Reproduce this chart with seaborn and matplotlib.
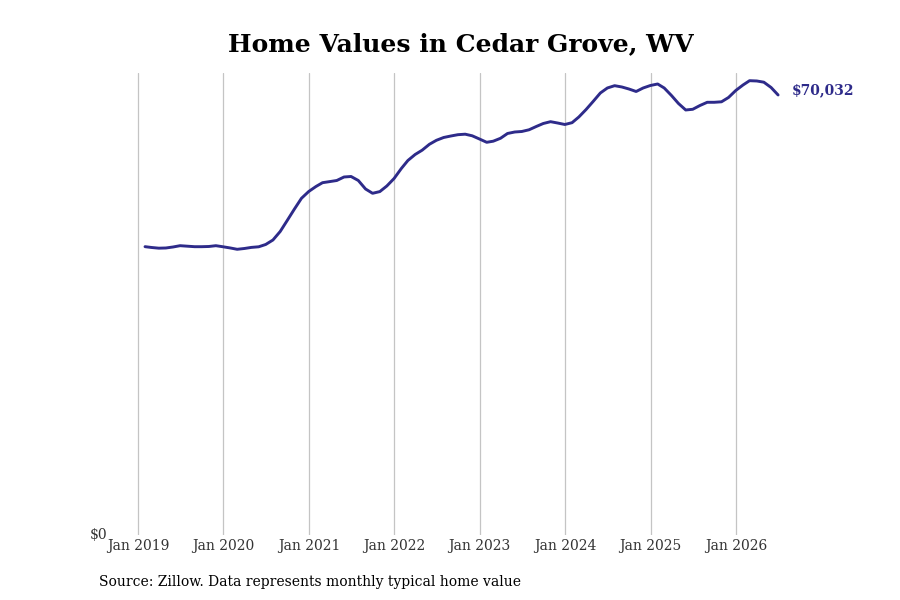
import numpy as np
import pandas as pd
import matplotlib
matplotlib.use("Agg")
import matplotlib.pyplot as plt
import matplotlib.dates as mdates
import seaborn as sns

dates = pd.date_range("2019-01-31", periods=90, freq="ME")
values = [
    45890, 45760, 45650, 45680, 45840, 46045, 45965, 45886, 45886, 45918, 46045, 45870,
    45680, 45472, 45600, 45774, 45870, 46236, 46952, 48305, 50056, 51886, 53589, 54671,
    55467, 56072, 56247, 56422, 56979, 57059, 56422, 55069, 54385, 54655, 55547, 56741,
    58332, 59605, 60560, 61245, 62184, 62820, 63266, 63505, 63712, 63791, 63537, 63027,
    62502, 62677, 63139, 63903, 64141, 64221, 64492, 65017, 65494, 65781, 65574, 65335,
    65622, 66529, 67723, 68996, 70349, 71145, 71511, 71304, 70985, 70587, 71145, 71542,
    71781, 71145, 69951, 68678, 67643, 67755, 68359, 68868, 68868, 68948, 69633, 70747,
    71622, 72307, 72259, 72068, 71224, 70032,
]
tick_years = [2019, 2020, 2021, 2022, 2023, 2024, 2025, 2026]
tick_labels = [f"Jan {y}" for y in tick_years]
title = "Home Values in Cedar Grove, WV"
source = "Source: Zillow. Data represents monthly typical home value"
line_color = "#2e2b8a"

df = pd.DataFrame({"date": dates, "value": values})

sns.set_style("white")
plt.rcParams["font.family"] = ["DejaVu Serif"]

fig = plt.figure(figsize=(9, 6), dpi=100)
L, R, B, T = 110, 790, 535, 73
ax = fig.add_axes([L / 900, (600 - B) / 600, (R - L) / 900, (B - T) / 600])

sns.lineplot(data=df, x="date", y="value", ax=ax, color=line_color, linewidth=2.1)

# x limits so that Jan 2019 sits at px 138 and Jan 2026 at px 736
d0 = mdates.date2num(pd.Timestamp("2019-01-01"))
d1 = mdates.date2num(pd.Timestamp("2026-01-01"))
ppd = (736 - 138) / (d1 - d0)
ax.set_xlim(d0 - (138 - L) / ppd, d0 + (R - 138) / ppd)
ax.set_ylim(0, 73530)

ticks = [pd.Timestamp(f"{y}-01-01") for y in tick_years]
ax.set_xticks(ticks)
ax.set_xticklabels(tick_labels, fontsize=10, color="#333333")
ax.set_yticks([0])
ax.set_yticklabels(["$0"], fontsize=10, color="#333333")
ax.tick_params(axis="x", length=0, pad=3)
ax.tick_params(axis="y", length=0, pad=2)
for lab in ax.get_yticklabels():
    lab.set_verticalalignment("center")

ax.grid(axis="x", color="#c4c4c4", linewidth=0.9)
ax.grid(axis="y", visible=False)
for s in ax.spines.values():
    s.set_visible(False)
ax.set_xlabel("")
ax.set_ylabel("")

ax.annotate(f"${values[-1]:,}", xy=(dates[-1], values[-1]), xytext=(9.5, 3.6),
            textcoords="offset points", ha="left", va="center",
            fontsize=10, fontweight="bold", color=line_color)

fig.text(460.5 / 900, 1 - 44 / 600, title, ha="center", va="center",
         fontsize=18, fontweight="bold", color="black")
fig.text(99 / 900, 1 - 582 / 600, source, ha="left", va="center",
         fontsize=10, color="black")

fig.savefig("out.png", dpi=100)
